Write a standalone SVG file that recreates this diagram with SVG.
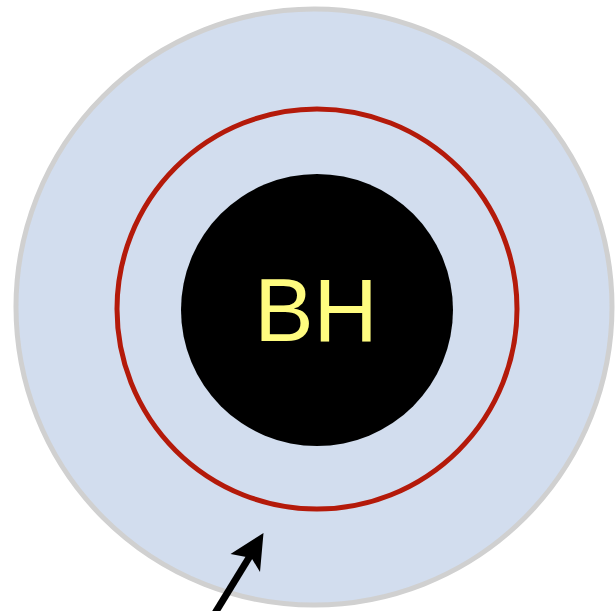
<svg xmlns="http://www.w3.org/2000/svg" width="616" height="611" viewBox="0 0 616 611">
<style>
.outer{fill:#D2DDEE;stroke:#D0D0D0;stroke-width:5}
.ring{fill:none;stroke:#B41A0A;stroke-width:5}
.bh{fill:#000}
.lbl{font-family:"Liberation Sans",Arial,sans-serif;font-size:89px;fill:#FFFC7F}
.conn{stroke:#000;stroke-width:7;fill:none}
</style>
<g id="outer"><circle class="outer" cx="314" cy="307" r="298"/></g>
<g id="ring"><circle class="ring" cx="317" cy="309" r="200"/></g>
<g id="blackhole"><circle class="bh" cx="317" cy="310" r="136"/><text class="lbl" x="316" y="341" text-anchor="middle">BH</text></g>
<g id="connectors">
<line class="conn" x1="212" y1="618" x2="250" y2="556"/>
<polygon points="263.5,533 230.5,554 251.5,558 260,572" fill="#000"/>
</g>
</svg>
